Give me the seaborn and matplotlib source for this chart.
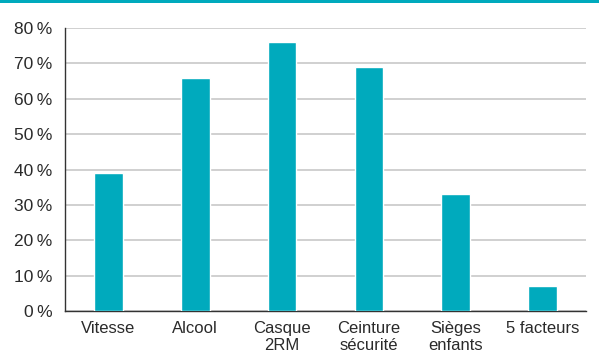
import matplotlib
matplotlib.use('Agg')
import matplotlib.pyplot as plt
import seaborn as sns
import pandas as pd
from matplotlib.ticker import FixedLocator, MultipleLocator, FuncFormatter

categories = ['Vitesse', 'Alcool', 'Casque\n2RM', 'Ceinture\nsécurité', 'Sièges\nenfants', '5 facteurs']
values = [39, 66, 76, 69, 33, 7]

teal = '#00aabd'

sns.set_style('white')
plt.rcParams['font.family'] = ['Liberation Sans', 'DejaVu Sans']

df = pd.DataFrame({'cat': categories, 'val': values})

fig = plt.figure(figsize=(5.99, 3.61), dpi=100)
ax = fig.add_axes([65 / 599, 1 - 311 / 361, 521 / 599, 283 / 361])

sns.barplot(data=df, x='cat', y='val', color=teal, width=0.33, saturation=1, ax=ax, zorder=3)

ax.set_ylim(0, 80)
ax.set_xlim(-0.5, len(categories) - 0.5)
ax.yaxis.set_major_locator(MultipleLocator(10))
ax.yaxis.set_major_formatter(FuncFormatter(lambda v, p: f'{int(v)}\u2009%'))
ax.grid(axis='y', color='#c8c8c8', linewidth=1.2, zorder=0)
ax.set_axisbelow(True)

ax.xaxis.set_minor_locator(FixedLocator([i - 0.5 for i in range(len(categories) + 1)]))
ax.tick_params(axis='x', which='major', length=0, pad=7, labelsize=12, colors='#2a2a2a')
ax.tick_params(axis='x', which='minor', length=5, width=1, color='#333333', direction='out')
ax.tick_params(axis='y', which='major', length=5, width=1, color='#333333', direction='out',
               pad=4, labelsize=12.5, labelcolor='#2a2a2a')
for lbl in ax.get_xticklabels():
    lbl.set_linespacing(1.2)

ax.set_xlabel('')
ax.set_ylabel('')
for s in ['top', 'right']:
    ax.spines[s].set_visible(False)
for s in ['left', 'bottom']:
    ax.spines[s].set_color('#333333')
    ax.spines[s].set_linewidth(1)

# bande turquoise en haut
fig.add_artist(plt.Rectangle((0, 1 - 2.5 / 361), 1, 2.5 / 361, transform=fig.transFigure,
                             color=teal, lw=0))

fig.savefig('out.png', dpi=100)
